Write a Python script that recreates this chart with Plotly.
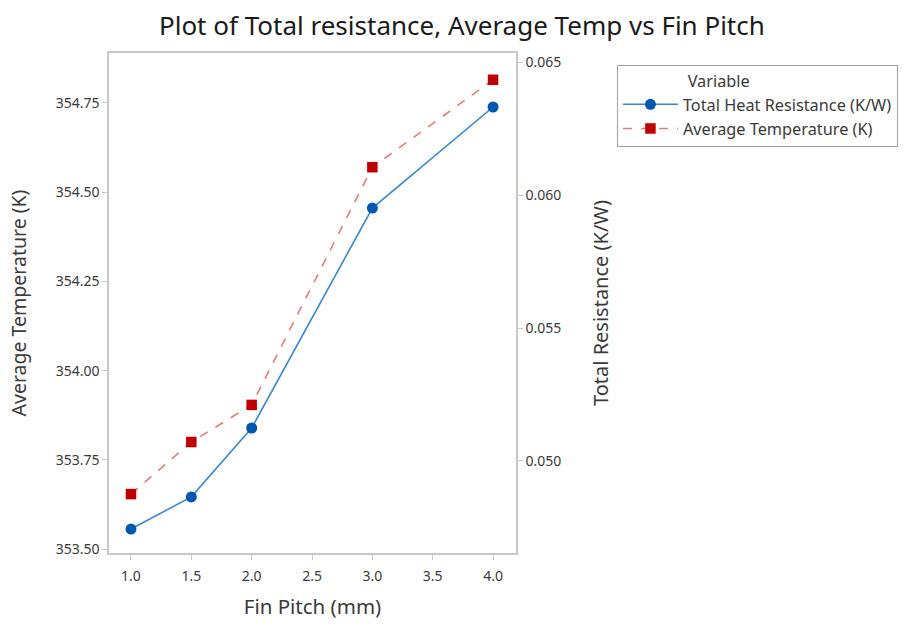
import plotly.graph_objects as go

fin_pitch = [1.0, 1.5, 2.0, 3.0, 4.0]
total_resistance = [0.04744, 0.04865, 0.05124, 0.05951, 0.06331]
avg_temperature = [353.654, 353.80, 353.904, 354.57, 354.815]

x_ticks = [1.0, 1.5, 2.0, 2.5, 3.0, 3.5, 4.0]
left_ticks = [353.50, 353.75, 354.00, 354.25, 354.50, 354.75]
right_ticks = [0.050, 0.055, 0.060, 0.065]

FONT = "Noto Sans"
GRID = "#c8c8c8"
TXT = "#3a3a3a"

fig = go.Figure()
fig.add_trace(go.Scatter(
    x=fin_pitch, y=total_resistance, name="Total Heat Resistance (K/W)",
    mode="lines+markers", yaxis="y2",
    line=dict(color="#3C86D2", width=1.6),
    marker=dict(symbol="circle", size=11, color="#0057B0"),
))
fig.add_trace(go.Scatter(
    x=fin_pitch, y=avg_temperature, name="Average Temperature (K)",
    mode="lines+markers", yaxis="y",
    line=dict(color="#E77B7B", width=1.6, dash="dash"),
    marker=dict(symbol="square", size=10.5, color="#C00000"),
))

axis_common = dict(
    showgrid=False, zeroline=False, showline=True, linecolor=GRID, linewidth=1.5,
    ticks="outside", ticklen=5, tickcolor=GRID, tickwidth=1, automargin=False,
    tickfont=dict(family=FONT, size=14, color=TXT),
)
title_font = dict(family=FONT, size=19.5, color=TXT)

fig.update_layout(
    width=911, height=624,
    margin=dict(l=109, r=395, t=53, b=71),
    paper_bgcolor="white", plot_bgcolor="white",
    title=dict(text="Plot of Total resistance, Average Temp vs Fin Pitch",
               x=0.507, xanchor="center", y=0.958, yanchor="middle",
               font=dict(family=FONT, size=26, color="#1a1a1a")),
    xaxis=dict(range=[0.818, 4.19], tickvals=x_ticks, tickformat=".1f",
               mirror=True, ticklabelstandoff=4,
               title=dict(text="Fin Pitch (mm)", font=dict(family=FONT, size=20.5, color=TXT), standoff=16),
               **axis_common),
    yaxis=dict(range=[353.489, 354.89], tickvals=left_ticks, tickformat=".2f",
               title=dict(text="Average Temperature (K)", font=title_font, standoff=24),
               **axis_common),
    yaxis2=dict(range=[0.04654, 0.06534], tickvals=right_ticks, tickformat=".3f",
                overlaying="y", side="right",
                title=dict(text="Total Resistance (K/W)", font=dict(family=FONT, size=20, color=TXT), standoff=34),
                **axis_common),
    legend=dict(
        x=1.248, xanchor="left", y=0.976, yanchor="top",
        bordercolor="#a0a0a0", borderwidth=1, bgcolor="white",
        font=dict(family=FONT, size=16.3, color=TXT),
        title=dict(text="\u00a0" * 16 + "Variable", side="top", font=dict(family=FONT, size=16.3, color=TXT)),
        tracegroupgap=0, itemwidth=55,
    ),
    showlegend=True,
)

fig.write_html("out.html")
